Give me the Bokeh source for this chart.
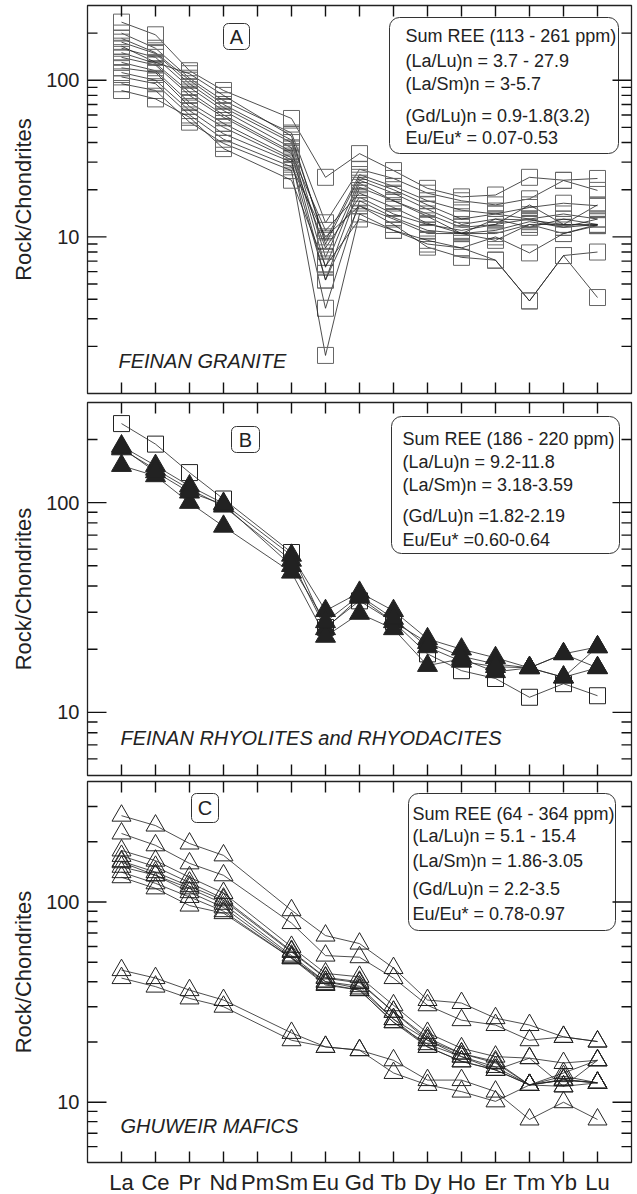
import math
from bokeh.plotting import figure
from bokeh.layouts import column
from bokeh.models import (Range1d, FixedTicker, BoxAnnotation, Label,
                          ColumnDataSource, PrintfTickFormatter)
from bokeh.embed import file_html
from bokeh.resources import INLINE

# ---------------- data ----------------
elements = ["La", "Ce", "Pr", "Nd", "Pm", "Sm", "Eu", "Gd", "Tb", "Dy", "Ho", "Er", "Tm", "Yb", "Lu"]
measured = [e for e in elements if e != "Pm"]

# Panel A: Feinan granite (open squares)
granite = [
    [235, 195, 115, 86, 57, 24, 34, 26.5, 20.4, 18, 18.5, 24, 23, 23.6],
    [200, 160, 103, 74, 46, 12.3, 27, 23.6, 19, 17, 16, 17.5, 22.9, 19.8],
    [185, 150, 100, 70, 41.5, 9.5, 25, 21, 17, 14.8, 14, 15.4, 16.4, 15.8],
    [175, 148, 95, 67, 40, 7.4, 23, 19, 15, 12, 13, 12.8, 12, 11.8],
    [160, 140, 90, 64, 37, 6.4, 22, 17, 14, 11.5, 12, 16, 12, 16],
    [150, 128, 84, 60, 35, 5.3, 20.7, 17, 13.5, 10.5, 11, 12.5, 11.5, 12],
    [140, 125, 80, 58, 34, 11, 19, 15.4, 12.2, 10.5, 10.5, 12, 10.5, 12],
    [130, 115, 72, 53, 32, 8.5, 17.9, 14, 12, 11, 12, 13, 11.5, 13],
    [120, 112, 68, 50, 31, 3.5, 17, 13.3, 11, 10.5, 13, 11.5, 13, 12],
    [112, 100, 64, 45.5, 30, 5.3, 15.8, 13, 10.5, 10.5, 9.5, 12, 12, 12],
    [105, 95, 60, 42, 28, 10, 15.8, 12, 8.6, 7.4, 7.1, 3.9, 7.6, 8.0],
    [95, 86, 54, 39.5, 26.5, 1.75, 14, 11, 9.5, 8.5, 7.1, 3.9, 7.6, 4.1],
    [86, 76, 58, 36.6, 23, 6.5, 13, 11, 9, 8.5, 10, 7.9, 10.5, 11.8],
    [165, 130, 110, 80, 44, 9, 24, 20, 16, 13, 14, 13, 14, 13],
]

# Panel B: Feinan rhyolites (open squares) and rhyodacites (filled triangles)
rhyolite_sq = [
    [238, 190, 139, 104, 57.8, 25.4, 34, 27, 19, 15.8, 14.5, 11.8, 13.7, 12],
]
rhyolite_tri = [
    [186, 150, 120, 99, 56, 30.5, 37.3, 30.5, 22.4, 20, 18.2, 16.3, 19, 20.5],
    [180, 144, 116, 96, 53, 25, 35.3, 27, 21.5, 18.5, 17, 16.3, 19, 16.3],
    [150, 134, 100, 77, 46.5, 23, 29.6, 25, 16.7, 18, 15.6, 16.3, 14.7, 16.3],
    [183, 140, 112, 98, 50, 27, 36, 28, 20.5, 17.5, 16.5, 16.3, 14.7, 20.5],
]

# Panel C: Ghuweir mafics (open triangles)
mafics = [
    [270, 241, 196, 171, 91, 68, 62, 46.8, 32.4, 31.3, 26.3, 24.3, 21.2, 20.1],
    [220, 192, 156, 136, 78.5, 54, 53, 41.7, 30.5, 25.7, 24.3, 20.4, 21.2, 20.1],
    [181, 161, 133, 111, 59.7, 44, 42.3, 30.5, 22.2, 18.6, 16.9, 16.6, 15.7, 16.2],
    [170, 150, 125, 104, 57, 42, 40, 28.3, 21, 17.5, 16, 12.2, 14, 16.2],
    [160, 141, 120, 102, 56.3, 41.7, 39.4, 28.3, 20.4, 17.5, 15.7, 12.2, 13, 12.5],
    [158, 136, 117, 98, 54, 40, 38, 26, 20.4, 16.9, 15, 12.2, 12.9, 12.5],
    [150, 136, 112, 94, 53, 39, 36.3, 25.1, 19.5, 16.9, 14.5, 12.2, 12, 16.2],
    [141, 124, 106, 90, 52.4, 38.5, 36.3, 25.1, 18.9, 16, 14.5, 12.2, 13.5, 12.5],
    [133, 117, 96, 88, 52.4, 40, 37, 26, 18.9, 16, 14.5, 16.6, 12, 12.5],
    [45.7, 41.7, 36.3, 32.4, 22.2, 18.9, 18.2, 16.2, 12.9, 12.9, 11.3, 8.2, 10, 8.2],
    [41.7, 37.8, 33, 30, 20.4, 18.9, 18.2, 14, 12.2, 11.3, 10.1, 12.2, 12.9, 12.5],
]

y_major = [10, 100]
minor_A = [2, 3, 4, 5, 6, 7, 8, 9, 20, 30, 40, 50, 60, 70, 80, 90, 200]
minor_B = [6, 7, 8, 9, 20, 30, 40, 50, 60, 70, 80, 90, 200]
minor_C = [6, 7, 8, 9, 20, 30, 40, 50, 60, 70, 80, 90, 200, 300]

text_A = ["Sum REE (113 - 261 ppm)", "(La/Lu)n = 3.7 - 27.9", "(La/Sm)n = 3-5.7",
          "(Gd/Lu)n = 0.9-1.8(3.2)", "Eu/Eu* = 0.07-0.53"]
text_B = ["Sum REE (186 - 220 ppm)", "(La/Lu)n = 9.2-11.8", "(La/Sm)n = 3.18-3.59",
          "(Gd/Lu)n =1.82-2.19", "Eu/Eu* =0.60-0.64"]
text_C = ["Sum REE (64 - 364 ppm)", "(La/Lu)n = 5.1 - 15.4", "(La/Sm)n = 1.86-3.05",
          "(Gd/Lu)n = 2.2-3.5", "Eu/Eu* = 0.78-0.97"]

# ---------------- styling / layout ----------------
FONT = "Liberation Sans"
INK = "#222222"
TICK = "#111111"
FRAME_LEFT = 87
FRAME_W = 544
X0, X1 = -1, 15
PX_PER_X = FRAME_W / float(X1 - X0)
XS = [elements.index(e) for e in measured]
MAJOR_LEN, MINOR_LEN, XTICK_LEN = 19, 10, 11


def px_to_x(px):
    return X0 + (px - FRAME_LEFT) / PX_PER_X


def y_mapper(frame_top, frame_h, ymin, ymax):
    lo, hi = math.log10(ymin), math.log10(ymax)
    return lambda py: 10 ** (hi - (py - frame_top) / frame_h * (hi - lo))


def add_ticks(p, ymin, ymax, frame_h, minor):
    """Inward ticks on all four frame edges, drawn as thin filled bars from the tick lists."""
    dec_per_px = (math.log10(ymax) - math.log10(ymin)) / frame_h
    for ticks, ln in [(y_major, MAJOR_LEN), (minor, MINOR_LEN)]:
        tt = [t for t in ticks if ymin < t < ymax]
        half = (ln / 2.0) / PX_PER_X
        for xc in (X0 + half, X1 - half):
            p.rect(x=[xc] * len(tt), y=tt, width=ln, height=1.4,
                   width_units="screen", height_units="screen",
                   fill_color=TICK, line_color=None)
    f = 10 ** ((XTICK_LEN / 2.0) * dec_per_px)
    idx = list(range(len(elements)))
    for yc in (ymin * f, ymax / f):
        p.rect(x=idx, y=[yc] * len(idx), width=1.4, height=XTICK_LEN,
               width_units="screen", height_units="screen",
               fill_color=TICK, line_color=None)


def make_panel(ymin, ymax, frame_top, frame_h, top_b, bot_b, show_x):
    p = figure(frame_width=FRAME_W, frame_height=frame_h, y_axis_type="log",
               x_range=Range1d(X0, X1), y_range=Range1d(ymin, ymax),
               output_backend="svg", toolbar_location=None,
               min_border_left=FRAME_LEFT, min_border_right=6,
               min_border_top=top_b, min_border_bottom=bot_b)
    p.xgrid.visible = False
    p.ygrid.visible = False
    p.outline_line_color = INK
    p.outline_line_width = 1.3

    ly = p.yaxis[0]
    ly.ticker = FixedTicker(ticks=y_major, minor_ticks=[])
    ly.formatter = PrintfTickFormatter(format="%d")
    ly.axis_line_color = None
    ly.major_tick_line_color = None
    ly.minor_tick_line_color = None
    ly.major_tick_in = 0
    ly.major_tick_out = 0
    ly.major_label_standoff = 8
    ly.major_label_text_font = FONT
    ly.major_label_text_font_size = "20px"
    ly.major_label_text_color = INK
    ly.axis_label = "Rock/Chondrites"
    ly.axis_label_text_font = FONT
    ly.axis_label_text_font_style = "normal"
    ly.axis_label_text_font_size = "22px"
    ly.axis_label_text_color = INK
    ly.axis_label_standoff = 7

    bx = p.xaxis[0]
    if show_x:
        bx.ticker = FixedTicker(ticks=list(range(len(elements))), minor_ticks=[])
        bx.major_label_overrides = {i: e for i, e in enumerate(elements)}
        bx.axis_line_color = None
        bx.major_tick_line_color = None
        bx.minor_tick_line_color = None
        bx.major_tick_in = 0
        bx.major_tick_out = 0
        bx.major_label_standoff = 7
        bx.major_label_text_font = FONT
        bx.major_label_text_font_size = "22px"
        bx.major_label_text_color = INK
    else:
        bx.visible = False
    return p, y_mapper(frame_top, frame_h, ymin, ymax)


def add_series(p, series, marker, size, fill, mline):
    for s in series:
        src = ColumnDataSource(dict(x=XS, y=s))
        p.line("x", "y", source=src, line_color=INK, line_width=0.8)
        p.scatter("x", "y", source=src, marker=marker, size=size,
                  fill_color=fill, line_color=mline, line_width=1)


def add_box(p, ymap, left, right, top, bottom, lines, text_x, line_ys, letter, letter_box, caption, cap_pos):
    p.add_layout(BoxAnnotation(left=px_to_x(left), right=px_to_x(right),
                               top=ymap(top), bottom=ymap(bottom),
                               fill_color="white", fill_alpha=1.0,
                               line_color="#333333", line_alpha=1.0, line_width=1,
                               border_radius=10, level="underlay"))
    for t, yy in zip(lines, line_ys):
        p.add_layout(Label(x=px_to_x(text_x), y=ymap(yy), text=t, text_font=FONT,
                           text_font_size="18px", text_color=INK,
                           text_baseline="middle", text_align="left"))
    l, r, tp, bt = letter_box
    p.add_layout(BoxAnnotation(left=px_to_x(l), right=px_to_x(r), top=ymap(tp), bottom=ymap(bt),
                               fill_color="white", fill_alpha=1.0, line_color="#333333",
                               line_alpha=1.0, line_width=1, border_radius=5, level="underlay"))
    p.add_layout(Label(x=px_to_x((l + r) / 2), y=ymap((tp + bt) / 2), text=letter,
                       text_font=FONT, text_font_size="20px", text_color=INK,
                       text_baseline="middle", text_align="center"))
    p.add_layout(Label(x=px_to_x(cap_pos[0]), y=ymap(cap_pos[1]), text=caption,
                       text_font=FONT, text_font_style="italic", text_font_size="20px",
                       text_color=INK, text_baseline="middle", text_align="left"))


# Panel A
pA, mA = make_panel(1, 300, 5, 388, 5, 4, False)
add_series(pA, granite, "square", 16, None, "#666666")
add_ticks(pA, 1, 300, 388, minor_A)
add_box(pA, mA, 389, 618, 17, 153, text_A, 405, [35, 60, 83, 115, 137],
        "A", (223, 249, 23, 49), "FEINAN GRANITE", (118, 360))

# Panel B
pB, mB = make_panel(5, 300, 402, 373, 5, 3, False)
add_series(pB, rhyolite_sq, "square", 16, None, INK)
add_series(pB, rhyolite_tri, "triangle", 20, INK, INK)
add_ticks(pB, 5, 300, 373, minor_B)
add_box(pB, mB, 391, 619, 416, 553, text_B, 402, [438, 461, 484, 515, 539],
        "B", (231, 259, 426, 452), "FEINAN RHYOLITES and RHYODACITES", (120, 737))

# Panel C
pC, mC = make_panel(5, 400, 781, 381, 3, 32, True)
add_series(pC, mafics, "triangle", 19, None, INK)
add_ticks(pC, 5, 400, 381, minor_C)
add_box(pC, mC, 408, 615, 793, 930, text_C, 412, [813, 835, 860, 888, 913],
        "C", (191, 218, 793, 822), "GHUWEIR MAFICS", (120, 1125))

layout = column(pA, pB, pC, spacing=0)
open("out.html", "w").write(file_html(layout, INLINE))
